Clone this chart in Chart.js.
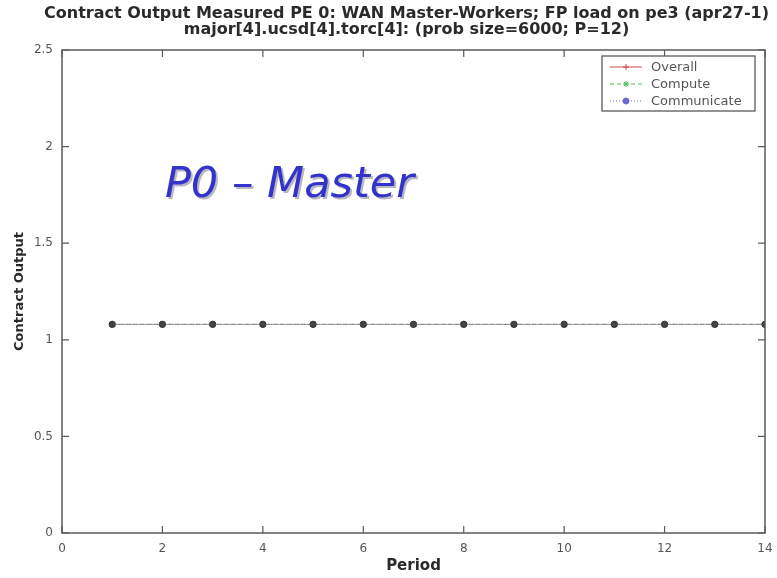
<!DOCTYPE html>
<html>
<head>
<meta charset="utf-8">
<script src="https://cdn.jsdelivr.net/npm/chart.js@4.4.1/dist/chart.umd.min.js"></script>
<style>
  html, body { margin: 0; padding: 0; background: #fff; }
  #wrap { width: 777px; height: 578px; }
</style>
</head>
<body>
<div id="wrap"><canvas id="c" width="777" height="578"></canvas></div>
<script>
// ---- data ----
const titleLines = [
  'Contract Output Measured PE 0: WAN Master-Workers; FP load on pe3 (apr27-1)',
  'major[4].ucsd[4].torc[4]: (prob size=6000; P=12)'
];
const periods = [1, 2, 3, 4, 5, 6, 7, 8, 9, 10, 11, 12, 13, 14];
const overall = [1.08, 1.08, 1.08, 1.08, 1.08, 1.08, 1.08, 1.08, 1.08, 1.08, 1.08, 1.08, 1.08, 1.08];
const compute = [1.08, 1.08, 1.08, 1.08, 1.08, 1.08, 1.08, 1.08, 1.08, 1.08, 1.08, 1.08, 1.08, 1.08];
const communicate = [1.08, 1.08, 1.08, 1.08, 1.08, 1.08, 1.08, 1.08, 1.08, 1.08, 1.08, 1.08, 1.08, 1.08];
const seriesNames = ['Overall', 'Compute', 'Communicate'];
const xTicks = [0, 2, 4, 6, 8, 10, 12, 14];
const yTicks = [0, 0.5, 1, 1.5, 2, 2.5];
const xLabel = 'Period';
const yLabel = 'Contract Output';
const noteText = 'P0 \u2013 Master';
const notePos = { x: 2.05, y: 1.74 };

const toPoints = (vals) => periods.map((p, i) => ({ x: p, y: vals[i] }));

const AXIS_COLOR = '#5a5a5a';
const TEXT_COLOR = '#555';

// headings above the axes box
const headings = {
  id: 'headings',
  afterDraw(chart) {
    const { ctx, chartArea } = chart;
    const cx = (chartArea.left + chartArea.right) / 2 - 7;
    ctx.save();
    ctx.fillStyle = '#2a2a2a';
    ctx.font = 'bold 16px "DejaVu Sans"';
    ctx.textAlign = 'center';
    ctx.textBaseline = 'middle';
    titleLines.forEach((t, i) => ctx.fillText(t, cx, 14 + i * 16));
    ctx.restore();
  }
};

// full axes box with inward tick marks on all four sides
const axesBox = {
  id: 'axesBox',
  afterDatasetsDraw(chart) {
    const { ctx, chartArea: a, scales } = chart;
    const len = 7;
    ctx.save();
    ctx.strokeStyle = AXIS_COLOR;
    ctx.lineWidth = 1.5;
    ctx.strokeRect(a.left, a.top, a.right - a.left, a.bottom - a.top);
    ctx.lineWidth = 1.2;
    ctx.beginPath();
    xTicks.forEach(v => {
      const px = scales.x.getPixelForValue(v);
      ctx.moveTo(px, a.bottom); ctx.lineTo(px, a.bottom - len);
      ctx.moveTo(px, a.top); ctx.lineTo(px, a.top + len);
    });
    yTicks.forEach(v => {
      const py = scales.y.getPixelForValue(v);
      ctx.moveTo(a.left, py); ctx.lineTo(a.left + len, py);
      ctx.moveTo(a.right, py); ctx.lineTo(a.right - len, py);
    });
    ctx.stroke();
    ctx.restore();
  }
};

// boxed legend in the upper right corner of the axes
const boxedLegend = {
  id: 'boxedLegend',
  afterDraw(chart) {
    const { ctx, chartArea: a } = chart;
    const w = 153, h = 55;
    const left = a.right - 10 - w, top = a.top + 6;
    ctx.save();
    ctx.fillStyle = '#fff';
    ctx.fillRect(left, top, w, h);
    ctx.strokeStyle = AXIS_COLOR;
    ctx.lineWidth = 1.3;
    ctx.strokeRect(left, top, w, h);
    ctx.font = '13px "DejaVu Sans"';
    ctx.textBaseline = 'middle';
    chart.data.datasets.forEach((ds, i) => {
      const y = top + 11 + i * 17;
      ctx.strokeStyle = ds.legendColor;
      ctx.lineWidth = 1;
      ctx.setLineDash(ds.borderDash || []);
      ctx.beginPath();
      ctx.moveTo(left + 8, y); ctx.lineTo(left + 40, y);
      ctx.stroke();
      ctx.setLineDash([]);
      ctx.fillStyle = ds.legendColor;
      Chart.helpers.drawPoint(ctx, {
        pointStyle: ds.pointStyle, radius: 3, borderWidth: 1, rotation: 0
      }, left + 24, y);
      ctx.fillStyle = TEXT_COLOR;
      ctx.fillText(ds.label, left + 49, y + 1);
    });
    ctx.restore();
  }
};

// italic annotation inside the axes
const note = {
  id: 'note',
  afterDraw(chart) {
    const { ctx, scales } = chart;
    const x = scales.x.getPixelForValue(notePos.x);
    const y = scales.y.getPixelForValue(notePos.y);
    ctx.save();
    ctx.font = 'oblique 43px "DejaVu Sans"';
    ctx.textBaseline = 'alphabetic';
    ctx.fillStyle = '#b8b8c4';
    ctx.fillText(noteText, x + 2, y + 2);
    ctx.fillStyle = '#3333cc';
    ctx.fillText(noteText, x, y);
    ctx.restore();
  }
};

new Chart(document.getElementById('c'), {
  type: 'line',
  data: {
    datasets: [
      {
        label: seriesNames[0], data: toPoints(overall),
        borderColor: 'rgba(110,100,100,0.6)', legendColor: '#cc4a4a', borderWidth: 1,
        pointStyle: 'cross', pointRadius: 3, pointBorderColor: 'rgba(90,60,60,0.8)', pointBorderWidth: 1
      },
      {
        label: seriesNames[1], data: toPoints(compute),
        borderColor: 'rgba(100,120,100,0.5)', legendColor: '#4cbf4c', borderWidth: 1, borderDash: [4, 3],
        pointStyle: 'star', pointRadius: 3, pointBorderColor: 'rgba(60,90,60,0.7)', pointBorderWidth: 1
      },
      {
        label: seriesNames[2], data: toPoints(communicate),
        borderColor: 'rgba(100,100,120,0.6)', legendColor: '#6a6ad0', borderWidth: 1, borderDash: [1, 2],
        pointStyle: 'circle', pointRadius: 3.2, pointBackgroundColor: '#33333d', pointBorderColor: '#33333d', pointBorderWidth: 1
      }
    ]
  },
  options: {
    responsive: false,
    animation: false,
    devicePixelRatio: 1,
    layout: { padding: { top: 50, right: 12, left: 0, bottom: 0 } },
    plugins: { legend: { display: false }, title: { display: false }, tooltip: { enabled: false } },
    scales: {
      x: {
        type: 'linear', min: 0, max: 14,
        afterBuildTicks: s => { s.ticks = xTicks.map(v => ({ value: v })); },
        afterFit: s => { s.height = 45; s.paddingLeft = 0; s.paddingRight = 0; },
        grid: { display: false, drawTicks: false },
        border: { display: false },
        ticks: { color: TEXT_COLOR, font: { family: 'DejaVu Sans', size: 12 }, padding: 9, maxRotation: 0,
                 callback: v => String(v) },
        title: { display: true, text: xLabel, color: '#2a2a2a', font: { family: 'DejaVu Sans', size: 15, weight: 'bold' }, padding: { top: 0, bottom: 3 } }
      },
      y: {
        type: 'linear', min: 0, max: 2.5,
        afterBuildTicks: s => { s.ticks = yTicks.map(v => ({ value: v })); },
        afterFit: s => { s.width = 62; s.paddingTop = 0; s.paddingBottom = 0; },
        grid: { display: false, drawTicks: false },
        border: { display: false },
        ticks: { color: TEXT_COLOR, font: { family: 'DejaVu Sans', size: 12 }, padding: 9,
                 callback: v => String(v) },
        title: { display: true, text: yLabel, color: '#2a2a2a', font: { family: 'DejaVu Sans', size: 13, weight: 'bold' }, padding: { top: 12, bottom: 0 } }
      }
    }
  },
  plugins: [axesBox, boxedLegend, note, headings]
});
</script>
</body>
</html>
